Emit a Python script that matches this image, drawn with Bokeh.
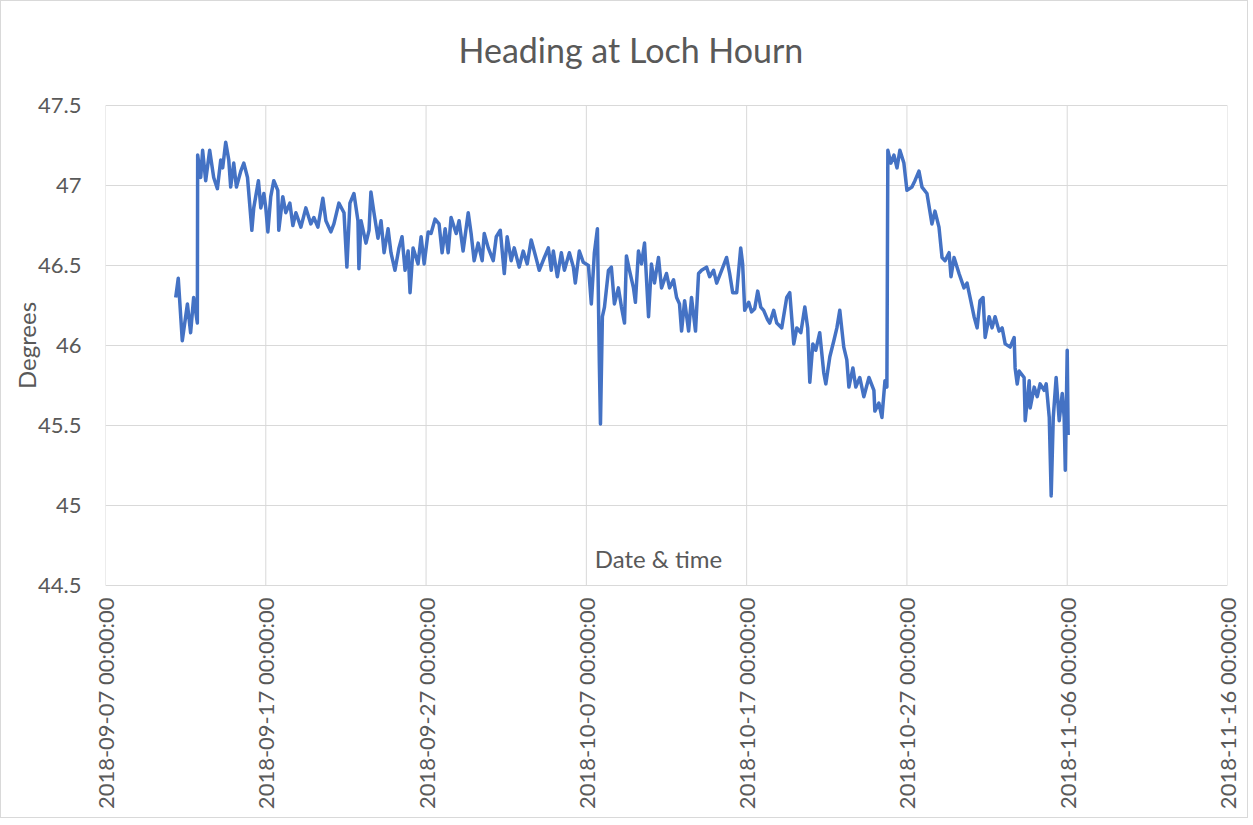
import math
import pandas as pd
from bokeh.plotting import figure
from bokeh.models import ColumnDataSource, Range1d, FixedTicker, Label
from bokeh.embed import file_html
from bokeh.resources import INLINE

# ---------------- data ----------------
start_date = "2018-09-07 00:00:00"

# elapsed time in days since start_date
elapsed_days = [
    4.38, 4.54, 4.79, 5.11, 5.31, 5.50, 5.73, 5.75, 5.94, 6.06,
    6.25, 6.50, 6.75, 6.98, 7.19, 7.31, 7.50, 7.69, 7.81, 8.00,
    8.17, 8.44, 8.63, 8.86, 9.13, 9.25, 9.54, 9.69, 9.88, 10.00,
    10.13, 10.31, 10.50, 10.75, 10.81, 11.06, 11.25, 11.50, 11.69, 11.88,
    12.19, 12.50, 12.81, 13.00, 13.25, 13.56, 13.75, 14.06, 14.25, 14.56,
    14.88, 15.06, 15.25, 15.50, 15.75, 15.81, 15.94,
    16.25, 16.44, 16.56, 16.75, 17.00, 17.19, 17.38, 17.63, 17.81, 18.06,
    18.31, 18.50, 18.69, 18.88, 19.00, 19.19, 19.50, 19.69, 19.88, 20.13,
    20.31, 20.56, 20.81, 21.00, 21.19, 21.38, 21.56,
    21.88, 22.06, 22.31, 22.63, 22.81, 23.00, 23.25, 23.50, 23.63, 23.88,
    24.19, 24.38, 24.63, 24.88, 25.06, 25.31, 25.50, 25.81, 26.06, 26.31,
    26.56, 26.88, 27.06, 27.38, 27.63, 27.81,
    27.94, 28.19, 28.44, 28.63, 28.94, 29.19, 29.31, 29.56, 29.81, 30.13,
    30.31, 30.50, 30.69, 30.81, 30.88, 31.00, 31.13, 31.38, 31.56, 31.75,
    32.00, 32.19, 32.38, 32.50, 32.69, 32.94, 33.06, 33.25, 33.44, 33.63,
    33.88, 34.06, 34.25, 34.50, 34.69, 35.00, 35.19, 35.44, 35.63, 35.81,
    35.94, 36.13, 36.38, 36.56, 36.81, 37.00, 37.19, 37.50, 37.69, 37.94,
    38.13, 38.44, 38.75, 38.94, 39.13, 39.38,
    39.63, 39.75, 39.88, 40.13, 40.31, 40.50, 40.69, 40.88, 41.06, 41.31,
    41.44, 41.69, 41.88, 42.19, 42.50, 42.69, 42.94, 43.13, 43.38, 43.63,
    43.81, 43.94, 44.13, 44.31, 44.56, 44.81, 44.94, 45.19, 45.44, 45.63,
    45.81, 46.06, 46.25, 46.38, 46.63, 46.81, 47.06, 47.31, 47.63, 47.94,
    48.00, 48.25, 48.44, 48.63, 48.75, 48.81, 49.00, 49.19, 49.38, 49.56,
    49.81, 50.00, 50.31, 50.50, 50.75, 50.94, 51.25,
    51.56, 51.75, 52.00, 52.19, 52.38, 52.63, 52.75, 52.94, 53.25, 53.56,
    53.75, 53.94, 54.19, 54.38, 54.56, 54.75, 54.88, 55.13, 55.31, 55.50,
    55.75, 55.94, 56.13,
    56.44, 56.69, 56.75, 56.88, 57.00, 57.31, 57.38, 57.63, 57.69, 57.94,
    58.13, 58.31, 58.56, 58.69, 58.88, 59.00, 59.13, 59.31, 59.50, 59.69,
    59.81, 59.88, 60.00, 60.06,
]

# heading in degrees
heading_deg = [
    46.30, 46.42, 46.03, 46.26, 46.08, 46.30, 46.14, 47.19, 47.05, 47.22,
    47.03, 47.22, 47.05, 46.98, 47.16, 47.11, 47.27, 47.16, 46.99, 47.14,
    46.99, 47.09, 47.14, 47.05, 46.72, 46.86, 47.03, 46.86, 46.95, 46.86,
    46.71, 46.93, 47.03, 46.97, 46.72, 46.93, 46.83, 46.89, 46.75, 46.83,
    46.74, 46.86, 46.76, 46.80, 46.74, 46.92, 46.78, 46.71, 46.76, 46.89,
    46.83, 46.49, 46.89, 46.95, 46.78, 46.48, 46.78,
    46.64, 46.72, 46.96, 46.83, 46.67, 46.78, 46.58, 46.73, 46.58, 46.47,
    46.61, 46.68, 46.47, 46.59, 46.33, 46.61, 46.51, 46.68, 46.51, 46.71,
    46.70, 46.79, 46.76, 46.58, 46.73, 46.58, 46.80,
    46.70, 46.78, 46.59, 46.83, 46.70, 46.53, 46.64, 46.53, 46.70, 46.61,
    46.53, 46.68, 46.72, 46.45, 46.68, 46.53, 46.61, 46.49, 46.59, 46.51,
    46.66, 46.54, 46.47, 46.55, 46.61, 46.47,
    46.59, 46.43, 46.58, 46.47, 46.58, 46.49, 46.39, 46.59, 46.52, 46.50,
    46.26, 46.58, 46.73, 45.89, 45.51, 46.18, 46.24, 46.47, 46.49, 46.26,
    46.36, 46.24, 46.14, 46.56, 46.47, 46.36, 46.27, 46.59, 46.51, 46.64,
    46.18, 46.51, 46.39, 46.55, 46.36, 46.45, 46.36, 46.41, 46.30, 46.26,
    46.09, 46.28, 46.09, 46.30, 46.09, 46.45, 46.47, 46.49, 46.43, 46.47,
    46.39, 46.47, 46.55, 46.45, 46.33, 46.33,
    46.61, 46.51, 46.22, 46.27, 46.21, 46.23, 46.34, 46.24, 46.22, 46.16,
    46.14, 46.22, 46.14, 46.11, 46.30, 46.33, 46.01, 46.11, 46.08, 46.24,
    46.11, 45.77, 46.01, 45.97, 46.08, 45.83, 45.76, 45.93, 46.03, 46.11,
    46.22, 45.99, 45.91, 45.74, 45.86, 45.74, 45.80, 45.68, 45.80, 45.72,
    45.59, 45.64, 45.55, 45.78, 45.74, 47.22, 47.14, 47.19, 47.11, 47.22,
    47.14, 46.97, 46.99, 47.03, 47.09, 46.99, 46.95,
    46.76, 46.84, 46.74, 46.55, 46.53, 46.58, 46.43, 46.55, 46.45, 46.36,
    46.39, 46.30, 46.18, 46.11, 46.28, 46.30, 46.05, 46.18, 46.11, 46.18,
    46.09, 46.11, 46.01,
    45.99, 46.05, 45.86, 45.76, 45.84, 45.80, 45.53, 45.78, 45.61, 45.74,
    45.68, 45.76, 45.72, 45.76, 45.55, 45.06, 45.55, 45.80, 45.53, 45.70,
    45.55, 45.22, 45.97, 45.44,
]

x_tick_labels = [
    "2018-09-07 00:00:00", "2018-09-17 00:00:00", "2018-09-27 00:00:00",
    "2018-10-07 00:00:00", "2018-10-17 00:00:00", "2018-10-27 00:00:00",
    "2018-11-06 00:00:00", "2018-11-16 00:00:00",
]
y_ticks = [44.5, 45, 45.5, 46, 46.5, 47, 47.5]
y_tick_labels = ["44.5", "45", "45.5", "46", "46.5", "47", "47.5"]

title_text = "Heading at Loch Hourn"
x_title = "Date & time"
y_title = "Degrees"

# ---------------- build ----------------
EPOCH = pd.Timestamp("1970-01-01")


def to_ms(ts):
    return int((ts - EPOCH).total_seconds() * 1000)


t0 = pd.Timestamp(start_date)
times = [t0 + pd.Timedelta(days=d) for d in elapsed_days]
src = ColumnDataSource(dict(t=[to_ms(t) for t in times], h=heading_deg))

x_ticks_ms = [to_ms(pd.Timestamp(s)) for s in x_tick_labels]

TEXT = "#595959"
FONT = "Lato"
GRID = "#d9d9d9"

# small invisible padding above / below the value axis so that the title
# can sit higher; gridlines are still drawn only between 44.5 and 47.5
pad = 15 / 160.0

p = figure(
    width=1248, height=818,
    x_axis_type="datetime",
    output_backend="svg", toolbar_location=None,
    x_range=Range1d(x_ticks_ms[0], x_ticks_ms[-1]),
    y_range=Range1d(y_ticks[0] - pad, y_ticks[-1] + pad),
    min_border_left=104, min_border_right=22,
    min_border_top=89, min_border_bottom=219,
)
p.outline_line_color = None
p.background_fill_color = "white"
p.border_fill_color = "white"

p.title.text = title_text
p.title.align = "left"
p.title.offset = 353
p.title.text_font = FONT
p.title.text_font_size = "34px"
p.title.text_font_style = "normal"
p.title.text_color = TEXT
p.title.standoff = 42

p.xaxis.ticker = FixedTicker(ticks=x_ticks_ms)
p.yaxis.ticker = FixedTicker(ticks=y_ticks)
p.ygrid.ticker = FixedTicker(ticks=y_ticks)
p.xgrid.visible = False
p.xaxis.major_label_overrides = dict(zip(x_ticks_ms, x_tick_labels))
p.yaxis.major_label_overrides = dict(zip(y_ticks, y_tick_labels))

p.ygrid.grid_line_color = GRID
p.ygrid.grid_line_width = 1

for ax in (p.xaxis[0], p.yaxis[0]):
    ax.axis_line_color = None
    ax.major_tick_line_color = None
    ax.minor_tick_line_color = None
    ax.major_tick_out = 0
    ax.major_tick_in = 0
    ax.minor_tick_out = 0
    ax.minor_tick_in = 0
    ax.major_label_text_font = FONT
    ax.major_label_text_font_size = "22px"
    ax.major_label_text_color = TEXT

p.xaxis.major_label_orientation = math.pi / 2
p.xaxis.major_label_standoff = -3
p.yaxis.major_label_standoff = 24

p.yaxis.axis_label = y_title
p.yaxis.axis_label_text_font = FONT
p.yaxis.axis_label_text_font_size = "24px"
p.yaxis.axis_label_text_color = TEXT
p.yaxis.axis_label_text_font_style = "normal"
p.yaxis.axis_label_standoff = -6

# vertical gridlines, only over the value range
p.segment(x0=x_ticks_ms, y0=[y_ticks[0]] * len(x_ticks_ms),
          x1=x_ticks_ms, y1=[y_ticks[-1]] * len(x_ticks_ms),
          line_color=GRID, line_width=1)

p.line("t", "h", source=src, line_width=3.5, line_color="#4472C4",
       line_join="round")

xlab = Label(
    x=to_ms(t0 + pd.Timedelta(days=34.5)), y=44.67, text=x_title,
    text_align="center", text_baseline="middle",
    text_font=FONT, text_font_size="24px", text_color=TEXT,
)
p.add_layout(xlab)

p.styles = {"border": "1px solid #d9d9d9"}

open("out.html", "w").write(file_html(p, INLINE))
